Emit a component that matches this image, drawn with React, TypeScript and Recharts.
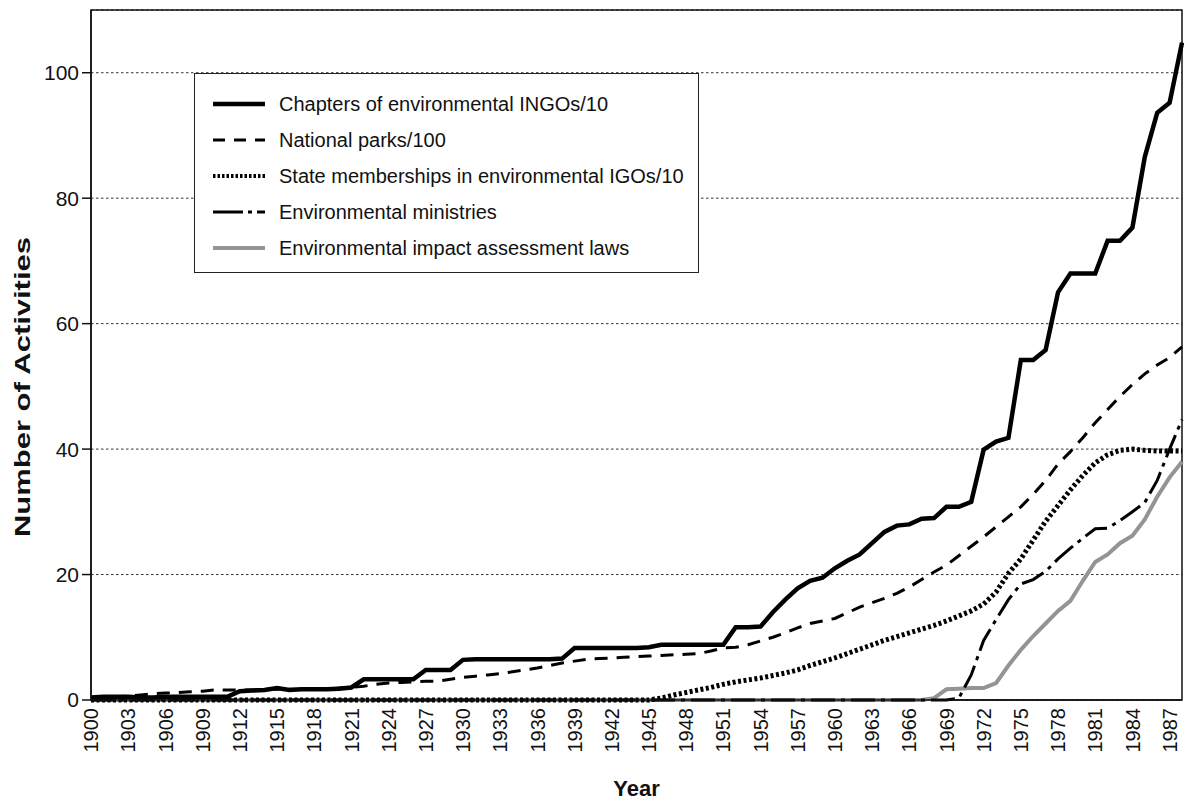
import React from "react";
import {
  CartesianGrid,
  Label,
  Legend,
  Line,
  LineChart,
  ReferenceArea,
  XAxis,
  YAxis,
} from "recharts";

const years = [
  1900, 1901, 1902, 1903, 1904, 1905, 1906, 1907, 1908, 1909,
  1910, 1911, 1912, 1913, 1914, 1915, 1916, 1917, 1918, 1919,
  1920, 1921, 1922, 1923, 1924, 1925, 1926, 1927, 1928, 1929,
  1930, 1931, 1932, 1933, 1934, 1935, 1936, 1937, 1938, 1939,
  1940, 1941, 1942, 1943, 1944, 1945, 1946, 1947, 1948, 1949,
  1950, 1951, 1952, 1953, 1954, 1955, 1956, 1957, 1958, 1959,
  1960, 1961, 1962, 1963, 1964, 1965, 1966, 1967, 1968, 1969,
  1970, 1971, 1972, 1973, 1974, 1975, 1976, 1977, 1978, 1979,
  1980, 1981, 1982, 1983, 1984, 1985, 1986, 1987, 1988,
];

// chapters of environmental INGOs / 10
const ingoChapters = [
  0.4, 0.5, 0.5, 0.5, 0.4, 0.4, 0.5, 0.5, 0.5, 0.5,
  0.5, 0.5, 1.4, 1.5, 1.6, 1.9, 1.6, 1.7, 1.7, 1.7,
  1.8, 2.0, 3.3, 3.3, 3.3, 3.3, 3.3, 4.8, 4.8, 4.8,
  6.4, 6.5, 6.5, 6.5, 6.5, 6.5, 6.5, 6.5, 6.6, 8.3,
  8.3, 8.3, 8.3, 8.3, 8.3, 8.4, 8.8, 8.8, 8.8, 8.8,
  8.8, 8.8, 11.6, 11.6, 11.7, 14.0, 16.0, 17.8, 19.0, 19.5,
  21.0, 22.2, 23.2, 25.0, 26.8, 27.8, 28.0, 28.9, 29.0, 30.8,
  30.8, 31.6, 39.9, 41.2, 41.8, 54.2, 54.2, 55.8, 65.0, 68.0,
  68.0, 68.0, 73.2, 73.2, 75.3, 86.6, 93.6, 95.2, 104.8,
];

// national parks / 100
const nationalParks = [
  0.3, 0.4, 0.5, 0.6, 0.8, 1.0, 1.1, 1.2, 1.3, 1.4,
  1.6, 1.6, 1.6, 1.6, 1.7, 1.7, 1.7, 1.7, 1.7, 1.8,
  1.9, 2.0, 2.2, 2.5, 2.7, 2.8, 2.9, 3.0, 3.0, 3.3,
  3.6, 3.8, 4.0, 4.2, 4.5, 4.8, 5.1, 5.5, 5.9, 6.2,
  6.5, 6.6, 6.7, 6.8, 6.9, 7.0, 7.1, 7.2, 7.3, 7.4,
  7.8, 8.3, 8.4, 8.8, 9.4, 10.0, 10.7, 11.5, 12.2, 12.6,
  13.0, 13.9, 14.8, 15.5, 16.2, 17.0, 18.0, 19.2, 20.4, 21.5,
  23.0, 24.5, 26.0, 27.6, 29.2, 30.8, 32.8, 35.0, 37.6, 39.6,
  41.8, 44.2, 46.3, 48.4, 50.3, 52.0, 53.4, 54.6, 56.3,
];

// state memberships in environmental IGOs / 10
const igoMemberships = [
  0, 0, 0, 0, 0, 0, 0, 0, 0, 0,
  0, 0, 0, 0, 0, 0, 0, 0, 0, 0,
  0, 0, 0, 0, 0, 0, 0, 0, 0, 0,
  0, 0, 0, 0, 0, 0, 0, 0, 0, 0,
  0, 0, 0, 0, 0, 0, 0.3, 0.8, 1.2, 1.6,
  2.0, 2.5, 2.9, 3.2, 3.5, 3.9, 4.3, 4.8, 5.5, 6.1,
  6.7, 7.4, 8.1, 8.8, 9.5, 10.1, 10.7, 11.3, 11.9, 12.6,
  13.4, 14.2, 15.3, 17.2, 20.2, 22.5, 25.5, 28.5, 31.0, 33.5,
  35.8, 37.8, 39.1, 39.8, 40.0, 39.8, 39.7, 39.7, 39.7,
];

const ministries = [
  0, 0, 0, 0, 0, 0, 0, 0, 0, 0,
  0, 0, 0, 0, 0, 0, 0, 0, 0, 0,
  0, 0, 0, 0, 0, 0, 0, 0, 0, 0,
  0, 0, 0, 0, 0, 0, 0, 0, 0, 0,
  0, 0, 0, 0, 0, 0, 0, 0, 0, 0,
  0, 0, 0, 0, 0, 0, 0, 0, 0, 0,
  0, 0, 0, 0, 0, 0, 0, 0, 0, 0,
  0.3, 4.0, 9.5, 12.8, 16.0, 18.5, 19.2, 20.5, 22.5, 24.2,
  25.8, 27.3, 27.4, 28.6, 30.0, 31.5, 35.0, 40.0, 44.7,
];

const eiaLaws = [
  0, 0, 0, 0, 0, 0, 0, 0, 0, 0,
  0, 0, 0, 0, 0, 0, 0, 0, 0, 0,
  0, 0, 0, 0, 0, 0, 0, 0, 0, 0,
  0, 0, 0, 0, 0, 0, 0, 0, 0, 0,
  0, 0, 0, 0, 0, 0, 0, 0, 0, 0,
  0, 0, 0, 0, 0, 0, 0, 0, 0, 0,
  0, 0, 0, 0, 0, 0, 0, 0, 0.3, 1.7,
  1.8, 1.9, 1.9, 2.7, 5.5, 8.0, 10.2, 12.2, 14.2, 15.8,
  19.0, 22.0, 23.2, 25.0, 26.2, 28.8, 32.4, 35.5, 38.0,
];

const xTicks = [
  1900, 1903, 1906, 1909, 1912, 1915, 1918, 1921, 1924, 1927,
  1930, 1933, 1936, 1939, 1942, 1945, 1948, 1951, 1954, 1957,
  1960, 1963, 1966, 1969, 1972, 1975, 1978, 1981, 1984, 1987,
];
const yTicks = [0, 20, 40, 60, 80, 100];

const FONT = '"Liberation Sans", Arial, Helvetica, sans-serif';
const GRAY = "#949494";

const series = [
  { key: "ingo", name: "Chapters of environmental INGOs/10", width: 4.5, dash: undefined, color: "#000" },
  { key: "parks", name: "National parks/100", width: 3, dash: "12 9", color: "#000" },
  { key: "igo", name: "State memberships in environmental IGOs/10", width: 4, dash: "2.5 2", color: "#000" },
  { key: "min", name: "Environmental ministries", width: 3, dash: "30 5 4 5", color: "#000" },
  { key: "eia", name: "Environmental impact assessment laws", width: 4, dash: undefined, color: GRAY },
];

const data = years.map((year, i) => ({
  year,
  ingo: ingoChapters[i],
  parks: nationalParks[i],
  igo: igoMemberships[i],
  min: ministries[i],
  eia: eiaLaws[i],
}));

function XTick(props: any) {
  const { x, y, payload } = props;
  return (
    <text
      x={x}
      y={y}
      transform={`rotate(-90 ${x} ${y})`}
      textAnchor="end"
      dy="0.36em"
      fontSize={20}
      fontFamily={FONT}
      fill="#111"
    >
      {payload.value}
    </text>
  );
}

function LegendBox() {
  return (
    <div
      style={{
        width: 505,
        height: 200,
        border: "1.5px solid #222",
        background: "#fff",
        boxSizing: "border-box",
        paddingTop: 12,
        fontFamily: FONT,
        fontSize: 20,
        color: "#111",
        textAlign: "left",
      }}
    >
      {series.map((s) => (
        <div key={s.key} style={{ display: "flex", alignItems: "center", height: 36 }}>
          <svg width={52} height={12} style={{ marginLeft: 18, marginRight: 14 }}>
            <line
              x1={0}
              y1={6}
              x2={52}
              y2={6}
              stroke={s.color}
              strokeWidth={s.width}
              strokeDasharray={s.dash}
            />
          </svg>
          <span>{s.name}</span>
        </div>
      ))}
    </div>
  );
}

export default function App() {
  return (
    <div style={{ position: "absolute", left: 0, top: 0, background: "#fff" }}>
      <LineChart
        width={1184}
        height={800}
        data={data}
        margin={{ top: 10, right: 2, left: 30, bottom: 0 }}
      >
        <CartesianGrid
          vertical={false}
          stroke="#333"
          strokeDasharray="2.5 2.5"
          strokeWidth={1}
        />
        <ReferenceArea
          x1={1900}
          x2={1988}
          y1={0}
          y2={110}
          fill="none"
          stroke="#111"
          strokeWidth={1.5}
          fillOpacity={0}
        />
        <XAxis
          dataKey="year"
          type="number"
          domain={[1900, 1988]}
          ticks={xTicks}
          interval={0}
          tick={<XTick />}
          tickLine={false}
          tickSize={0}
          tickMargin={8}
          axisLine={{ stroke: "#111", strokeWidth: 1.5 }}
          height={100}
        >
          <Label
            value="Year"
            position="insideBottom"
            offset={4}
            style={{ fontFamily: FONT, fontSize: 22, fontWeight: 700, fill: "#111" }}
          />
        </XAxis>
        <YAxis
          type="number"
          domain={[0, 110]}
          ticks={yTicks}
          width={61}
          tickSize={9}
          tickMargin={3}
          tick={{ fontFamily: FONT, fontSize: 21, fill: "#111" }}
          tickLine={{ stroke: "#111", strokeWidth: 1.5 }}
          axisLine={{ stroke: "#111", strokeWidth: 1.5 }}
        >
          <Label
            content={() => (
              <text
                x={22}
                y={387}
                transform="rotate(-90 22 387)"
                textAnchor="middle"
                dy="0.36em"
                fontFamily={FONT}
                fontSize={22}
                fontWeight={700}
                fill="#111"
                textLength={300}
                lengthAdjust="spacingAndGlyphs"
              >
                Number of Activities
              </text>
            )}
          />
        </YAxis>
        <Legend
          layout="vertical"
          align="center"
          verticalAlign="middle"
          content={() => <LegendBox />}
          wrapperStyle={{ position: "absolute", left: 194, top: 73, width: 505, height: 200 }}
        />
        <Line dataKey="eia" stroke={GRAY} strokeWidth={4} dot={false} isAnimationActive={false} type="linear" />
        <Line dataKey="igo" stroke="#000" strokeWidth={5} strokeDasharray="3 2.5" dot={false} isAnimationActive={false} type="linear" />
        <Line dataKey="min" stroke="#000" strokeWidth={3} strokeDasharray="24 6 4 6" dot={false} isAnimationActive={false} type="linear" />
        <Line dataKey="parks" stroke="#000" strokeWidth={3} strokeDasharray="13 9" dot={false} isAnimationActive={false} type="linear" />
        <Line dataKey="ingo" stroke="#000" strokeWidth={4.5} dot={false} isAnimationActive={false} type="linear" />
      </LineChart>
    </div>
  );
}
